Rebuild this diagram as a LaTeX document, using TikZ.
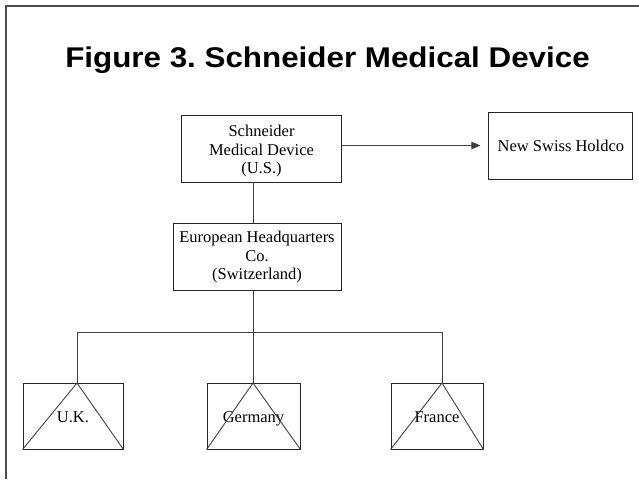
\documentclass[tikz,border=0pt]{standalone}
\usepackage{fontspec}
\setmainfont{Liberation Serif}
\newfontfamily\titlefont{Liberation Sans}
\usetikzlibrary{arrows.meta,positioning,calc}
\frenchspacing

\begin{document}
\begin{tikzpicture}[x=1pt,y=-1pt,>={Triangle[length=9pt,width=7.5pt]},
company/.style={
draw=black!85,
line width=0.9pt,
rectangle,
inner sep=0pt,
minimum height=67pt,
align=center,
font=\fontsize{16.5}{18.5}\selectfont,
},
link/.style={draw=black!75,line width=0.9pt}
]
\useasboundingbox (0,0) rectangle (639,479);
\draw[black!70,line width=1.3pt] (6,479) -- (6,6) -- (639,6);
\node[anchor=base,font=\titlefont\fontsize{28.5}{30}\selectfont\bfseries] (title) at (327.5,67) {\scalebox{1.1}[1]{Figure 3. Schneider Medical Device}};

\node[company,minimum width=160pt] at (261.5,148.5) (schneider) {\rule{0pt}{17pt}Schneider\\Medical Device\\(U.S.)};
\node[company,minimum width=168pt,below=41pt of schneider,xshift=-4.5pt] (european) {European Headquarters\\Co.\\(Switzerland)};
\node[company,minimum width=144pt,right=146.5pt of schneider,yshift=3pt] (newSwiss) {New Swiss Holdco};
\coordinate (trunk) at (253,332);

\draw[link,->,shorten >=8pt] (schneider.east |- newSwiss.west) -- (newSwiss.west);
\draw[link] (schneider.south -| trunk) -- (european.north -| trunk);
\draw[link] (european.south -| trunk) -- (trunk);

\foreach \n/\t/\x/\w/\a in {%
		uK/U.K./73/100/77,
		germany/Germany/253.5/93/253,
		france/France/437/92/442}
		{
		\node[company,minimum width=\w pt,minimum height=66pt,text height=14pt,text depth=1pt] at (\x,416) (\n) {\t};
		\coordinate (\n Top) at (\a,383);
		\draw[link] (\n.south west) -- (\n Top) -- (\n.south east);
		\draw[link] (trunk -| \n Top) -- (\n Top);
		}
\draw[link] (trunk -| uKTop) -- (trunk -| franceTop);
\end{tikzpicture}
\end{document}
